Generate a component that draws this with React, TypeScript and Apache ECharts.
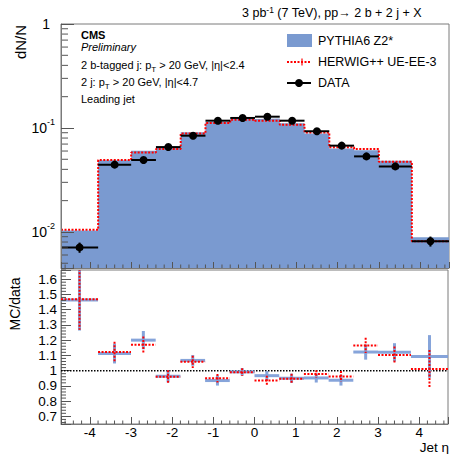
import React, { useEffect, useRef } from 'react';
import * as echarts from 'echarts';

// ---------------- data ----------------
const binEdges = [-4.7, -3.8, -3.0, -2.4, -1.8, -1.2, -0.6, 0, 0.6, 1.2, 1.8, 2.4, 3.0, 3.8, 4.7];
const pythia = [0.0103, 0.049, 0.0605, 0.064, 0.0909, 0.115, 0.122, 0.123, 0.111, 0.0885, 0.0635, 0.061, 0.0485, 0.00887];
const herwig = [0.0105, 0.0492, 0.0582, 0.0628, 0.0887, 0.1117, 0.120, 0.1175, 0.1076, 0.0907, 0.0651, 0.0628, 0.0474, 0.00813];
const dataVals = [0.0071, 0.0444, 0.0492, 0.0655, 0.0843, 0.1175, 0.1248, 0.1284, 0.1175, 0.093, 0.0676, 0.0533, 0.0427, 0.00813];
const dataErr = [0.0008, 0.001, 0.001, 0.0012, 0.0015, 0.002, 0.002, 0.002, 0.002, 0.0015, 0.0012, 0.001, 0.001, 0.0009];

const pythiaRatio = [1.463, 1.112, 1.2, 0.963, 1.067, 0.935, 0.992, 0.967, 0.95, 0.952, 0.937, 1.122, 1.12, 1.093];
const pythiaRatioErr = [0.2, 0.065, 0.06, 0.04, 0.035, 0.033, 0.025, 0.03, 0.03, 0.03, 0.035, 0.05, 0.06, 0.14];
const herwigRatio = [1.468, 1.122, 1.17, 0.96, 1.058, 0.95, 0.99, 0.935, 0.947, 0.978, 0.962, 1.165, 1.103, 1.01];
const herwigRatioErr = [0.2, 0.067, 0.054, 0.042, 0.04, 0.028, 0.025, 0.032, 0.032, 0.025, 0.035, 0.05, 0.055, 0.125];

const xTickLabels = [-4, -3, -2, -1, 0, 1, 2, 3, 4];
const ratioTickLabels = [0.7, 0.8, 0.9, 1, 1.1, 1.2, 1.3, 1.4, 1.5, 1.6];
const topAxisMaxLabel = '1';

const X_MIN = -4.7;
const X_MAX = 4.7;
const Y_MIN = 0.0045;
const Y_MAX = 1;
const R_MIN = 0.65;
const R_MAX = 1.66;

const FONT = '"Liberation Sans", Arial, Helvetica, sans-serif';
const BLUE = '#7a9ad0';
const RED = '#ff0000';
const AXIS = '#7a7a7a';
const TICK = '#555555';

function stepData(vals: number[]) {
  return binEdges.map((e, i) => [e, vals[Math.min(i, vals.length - 1)]]);
}

function tickSeries(xi: number, yi: number, data: number[][], orient: 'y' | 'x', len: number) {
  return {
    type: 'custom',
    xAxisIndex: xi,
    yAxisIndex: yi,
    silent: true,
    clip: false,
    z: 5,
    data,
    renderItem: (params: any, api: any) => {
      const p = api.coord([api.value(0), api.value(1)]);
      if (orient === 'y') {
        return { type: 'line', shape: { x1: p[0], y1: p[1], x2: p[0] + len, y2: p[1] }, style: { stroke: TICK, lineWidth: 1 } };
      }
      return { type: 'line', shape: { x1: p[0], y1: p[1], x2: p[0], y2: p[1] - len }, style: { stroke: TICK, lineWidth: 1 } };
    },
  };
}

function ratioSeries(vals: number[], errs: number[], color: string, width: number, dash: number[] | null, opacity: number) {
  return {
    type: 'custom',
    xAxisIndex: 1,
    yAxisIndex: 1,
    silent: true,
    clip: true,
    data: vals.map((v, i) => [(binEdges[i] + binEdges[i + 1]) / 2, v, binEdges[i], binEdges[i + 1], errs[i]]),
    renderItem: (params: any, api: any) => {
      const xc = api.value(0), v = api.value(1), lo = api.value(2), hi = api.value(3), e = api.value(4);
      const pL = api.coord([lo, v]);
      const pR = api.coord([hi, v]);
      const pT = api.coord([xc, v + e]);
      const pB = api.coord([xc, v - e]);
      const style: any = { stroke: color, lineWidth: width, opacity };
      if (dash) style.lineDash = dash;
      return {
        type: 'group',
        children: [
          { type: 'line', shape: { x1: pL[0], y1: pL[1], x2: pR[0], y2: pR[1] }, style },
          { type: 'line', shape: { x1: pT[0], y1: pT[1], x2: pB[0], y2: pB[1] }, style },
        ],
      };
    },
  };
}

export default function App() {
  const ref = useRef<HTMLDivElement>(null);
  useEffect(() => {
    if (!ref.current) return;
    const chart = echarts.init(ref.current, undefined, { renderer: 'svg' });

    const logMinor: number[][] = [];
    for (const d of [-3, -2, -1]) {
      for (let m = 2; m <= 9; m++) {
        const v = m * Math.pow(10, d);
        if (v >= Y_MIN && v < 1) logMinor.push([X_MIN, v]);
      }
    }
    const ratioMinor: number[][] = [];
    for (let k = 33; k <= 83; k++) {
      if (k % 5 !== 0) ratioMinor.push([X_MIN, k / 50]);
    }
    const xMinorTop: number[][] = [];
    const xMinorBot: number[][] = [];
    for (let k = -23; k <= 23; k++) {
      if (k % 5 !== 0) {
        xMinorTop.push([k / 5, Y_MIN]);
        xMinorBot.push([k / 5, R_MIN]);
      }
    }

    const option: any = {
      animation: false,
      backgroundColor: '#ffffff',
      textStyle: { fontFamily: FONT },
      grid: [
        { left: 61, top: 24, width: 388, height: 244, show: true, borderColor: AXIS, borderWidth: 1, backgroundColor: 'transparent' },
        { left: 61, top: 270, width: 388, height: 154, show: true, borderColor: AXIS, borderWidth: 1, backgroundColor: 'transparent' },
      ],
      xAxis: [
        {
          type: 'value', gridIndex: 0, min: X_MIN, max: X_MAX, minInterval: 1, maxInterval: 1,
          axisLine: { show: true, onZero: false, lineStyle: { color: AXIS } },
          axisTick: { show: true, inside: true, length: 6, lineStyle: { color: TICK } },
          axisLabel: { show: false },
          splitLine: { show: false },
          z: 10,
        },
        {
          type: 'value', gridIndex: 1, min: X_MIN, max: X_MAX, minInterval: 1, maxInterval: 1,
          axisLine: { show: true, onZero: false, lineStyle: { color: AXIS } },
          axisTick: { show: true, inside: true, length: 7, lineStyle: { color: TICK } },
          axisLabel: {
            show: true, fontSize: 13.5, color: '#000', fontFamily: FONT, margin: 1,
            formatter: (v: number) => (xTickLabels.some((t) => Math.abs(t - v) < 1e-6) ? String(Math.round(v)) : ''),
          },
          splitLine: { show: false },
        },
      ],
      yAxis: [
        {
          type: 'log', logBase: 10, gridIndex: 0, min: Y_MIN, max: Y_MAX,
          axisLine: { show: true, onZero: false, lineStyle: { color: AXIS } },
          axisTick: { show: true, inside: true, length: 13, lineStyle: { color: TICK } },
          axisLabel: {
            show: true, margin: 6, color: '#000', fontFamily: FONT, fontSize: 14,
            formatter: (v: number) => {
              const l = Math.log10(v);
              const r = Math.round(l);
              if (Math.abs(l - r) > 1e-6 || r === 0) return '';
              return '{b|10}{s|' + r + '}';
            },
            rich: {
              b: { fontSize: 14, lineHeight: 20, fontFamily: FONT, color: '#000' },
              s: { fontSize: 9, lineHeight: 10, verticalAlign: 'top', fontFamily: FONT, color: '#000' },
            },
          },
          splitLine: { show: false },
          z: 10,
        },
        {
          type: 'value', gridIndex: 1, min: R_MIN, max: R_MAX, minInterval: 0.1, maxInterval: 0.1,
          axisLine: { show: true, onZero: false, lineStyle: { color: AXIS } },
          axisTick: { show: true, inside: true, length: 10, lineStyle: { color: TICK } },
          axisLabel: {
            show: true, margin: 4, fontSize: 13.5, color: '#000', fontFamily: FONT,
            formatter: (v: number) => {
              const t = ratioTickLabels.find((x) => Math.abs(x - v) < 1e-6);
              return t === undefined ? '' : String(t);
            },
          },
          splitLine: { show: false },
        },
      ],
      series: [
        {
          type: 'line', xAxisIndex: 0, yAxisIndex: 0, step: 'end', data: stepData(pythia),
          symbol: 'none', silent: true,
          lineStyle: { width: 0, opacity: 0 },
          areaStyle: { color: BLUE, opacity: 1, origin: Y_MIN },
          z: 1,
        },
        {
          type: 'line', xAxisIndex: 0, yAxisIndex: 0, step: 'end', data: stepData(herwig),
          symbol: 'none', silent: true,
          lineStyle: { color: RED, width: 2, type: [2, 1.5] },
          z: 2,
        },
        {
          type: 'custom', xAxisIndex: 0, yAxisIndex: 0, silent: true, z: 3,
          data: dataVals.map((v, i) => [(binEdges[i] + binEdges[i + 1]) / 2, v, binEdges[i], binEdges[i + 1], dataErr[i]]),
          renderItem: (params: any, api: any) => {
            const xc = api.value(0), v = api.value(1), lo = api.value(2), hi = api.value(3), e = api.value(4);
            const pL = api.coord([lo, v]);
            const pR = api.coord([hi, v]);
            const pT = api.coord([xc, v + e]);
            const pB = api.coord([xc, v - e]);
            const pC = api.coord([xc, v]);
            return {
              type: 'group',
              children: [
                { type: 'line', shape: { x1: pL[0], y1: pL[1], x2: pR[0], y2: pR[1] }, style: { stroke: '#000', lineWidth: 2 } },
                { type: 'line', shape: { x1: pT[0], y1: pT[1], x2: pB[0], y2: pB[1] }, style: { stroke: '#000', lineWidth: 2 } },
                { type: 'circle', shape: { cx: pC[0], cy: pC[1], r: 4 }, style: { fill: '#000' } },
              ],
            };
          },
        },
        {
          // label "1" at the top of the log axis, placed through the axis scale
          type: 'custom', xAxisIndex: 0, yAxisIndex: 0, silent: true, clip: false, z: 20,
          data: [[X_MIN, Y_MAX]],
          renderItem: (params: any, api: any) => {
            const p = api.coord([api.value(0), api.value(1)]);
            return {
              type: 'text',
              x: p[0] - 11,
              y: p[1],
              style: { text: topAxisMaxLabel, fill: '#000', font: '14px ' + FONT, align: 'right', verticalAlign: 'middle', textAlign: 'right', textVerticalAlign: 'middle' },
            };
          },
        },
        tickSeries(0, 0, logMinor, 'y', 7),
        tickSeries(0, 0, xMinorTop, 'x', 3.5),
        {
          type: 'line', xAxisIndex: 1, yAxisIndex: 1, data: [[X_MIN, 1], [X_MAX, 1]],
          symbol: 'none', silent: true,
          lineStyle: { color: '#000', width: 1.5, type: [1.5, 1.5] },
          z: 1,
        },
        ratioSeries(pythiaRatio, pythiaRatioErr, '#7f9fd8', 3, null, 0.95),
        ratioSeries(herwigRatio, herwigRatioErr, RED, 2, [2, 1.5], 1),
        tickSeries(1, 1, ratioMinor, 'y', 5),
        tickSeries(1, 1, xMinorBot, 'x', 3.5),
      ],
      graphic: [
        {
          type: 'text', x: 242, y: 13,
          style: {
            text: '{n|3 pb}{s|-1}{n| (7 TeV), pp\u2192 2 b + 2 j + X}',
            fill: '#000', textAlign: 'left', align: 'left', textVerticalAlign: 'middle', verticalAlign: 'middle',
            font: '12.5px ' + FONT,
            rich: {
              n: { fontSize: 12.5, lineHeight: 16, fontFamily: FONT, fill: '#000' },
              s: { fontSize: 8.5, lineHeight: 9, verticalAlign: 'top', fontFamily: FONT, fill: '#000' },
            },
          },
        },
        {
          type: 'text', x: 20, y: 42, rotation: Math.PI / 2,
          style: { text: 'dN/N', fill: '#000', font: '15px ' + FONT, textAlign: 'center', align: 'center', textVerticalAlign: 'middle', verticalAlign: 'middle' },
        },
        {
          type: 'text', x: 15, y: 304, rotation: Math.PI / 2,
          style: { text: 'MC/data', fill: '#000', font: '14px ' + FONT, textAlign: 'center', align: 'center', textVerticalAlign: 'middle', verticalAlign: 'middle' },
        },
        {
          type: 'text', x: 449, y: 447,
          style: { text: 'Jet \u03b7', fill: '#000', font: '13.5px ' + FONT, textAlign: 'right', align: 'right', textVerticalAlign: 'middle', verticalAlign: 'middle' },
        },
        {
          type: 'text', x: 81, y: 35,
          style: { text: 'CMS', fill: '#000', font: 'bold 11px ' + FONT, textAlign: 'left', align: 'left', textVerticalAlign: 'middle', verticalAlign: 'middle' },
        },
        {
          type: 'text', x: 81, y: 47,
          style: { text: 'Preliminary', fill: '#000', font: 'italic 11px ' + FONT, textAlign: 'left', align: 'left', textVerticalAlign: 'middle', verticalAlign: 'middle' },
        },
        {
          type: 'text', x: 81, y: 65,
          style: {
            text: '{n|2 b-tagged j: p}{s|T}{n| > 20 GeV, |\u03b7|<2.4}',
            fill: '#000', font: '11px ' + FONT, textAlign: 'left', align: 'left', textVerticalAlign: 'middle', verticalAlign: 'middle',
            rich: {
              n: { fontSize: 11, lineHeight: 16, fontFamily: FONT, fill: '#000' },
              s: { fontSize: 8, lineHeight: 6, verticalAlign: 'bottom', fontFamily: FONT, fill: '#000' },
            },
          },
        },
        {
          type: 'text', x: 81, y: 82,
          style: {
            text: '{n|2 j: p}{s|T}{n| > 20 GeV, |\u03b7|<4.7}',
            fill: '#000', font: '11px ' + FONT, textAlign: 'left', align: 'left', textVerticalAlign: 'middle', verticalAlign: 'middle',
            rich: {
              n: { fontSize: 11, lineHeight: 16, fontFamily: FONT, fill: '#000' },
              s: { fontSize: 8, lineHeight: 6, verticalAlign: 'bottom', fontFamily: FONT, fill: '#000' },
            },
          },
        },
        {
          type: 'text', x: 81, y: 99,
          style: { text: 'Leading jet', fill: '#000', font: '11px ' + FONT, textAlign: 'left', align: 'left', textVerticalAlign: 'middle', verticalAlign: 'middle' },
        },
        // legend
        { type: 'rect', shape: { x: 287, y: 34, width: 25, height: 13 }, style: { fill: BLUE } },
        {
          type: 'text', x: 318, y: 41,
          style: { text: 'PYTHIA6 Z2*', fill: '#000', font: '12.5px ' + FONT, textAlign: 'left', align: 'left', textVerticalAlign: 'middle', verticalAlign: 'middle' },
        },
        { type: 'line', shape: { x1: 287, y1: 62, x2: 311, y2: 62 }, style: { stroke: RED, lineWidth: 2, lineDash: [2, 1.5] } },
        { type: 'line', shape: { x1: 302, y1: 58.5, x2: 302, y2: 65.5 }, style: { stroke: RED, lineWidth: 1.2 } },
        {
          type: 'text', x: 318, y: 62,
          style: { text: 'HERWIG++ UE-EE-3', fill: '#000', font: '12.5px ' + FONT, textAlign: 'left', align: 'left', textVerticalAlign: 'middle', verticalAlign: 'middle' },
        },
        { type: 'line', shape: { x1: 287, y1: 83, x2: 311, y2: 83 }, style: { stroke: '#000', lineWidth: 2 } },
        { type: 'circle', shape: { cx: 299, cy: 83, r: 4 }, style: { fill: '#000' } },
        {
          type: 'text', x: 318, y: 83,
          style: { text: 'DATA', fill: '#000', font: '12.5px ' + FONT, textAlign: 'left', align: 'left', textVerticalAlign: 'middle', verticalAlign: 'middle' },
        },
      ],
    };

    chart.setOption(option);
    return () => {
      chart.dispose();
    };
  }, []);

  return (
    <div
      ref={ref}
      style={{ position: 'absolute', left: 0, top: 0, width: 451, height: 454, background: '#fff' }}
    />
  );
}
